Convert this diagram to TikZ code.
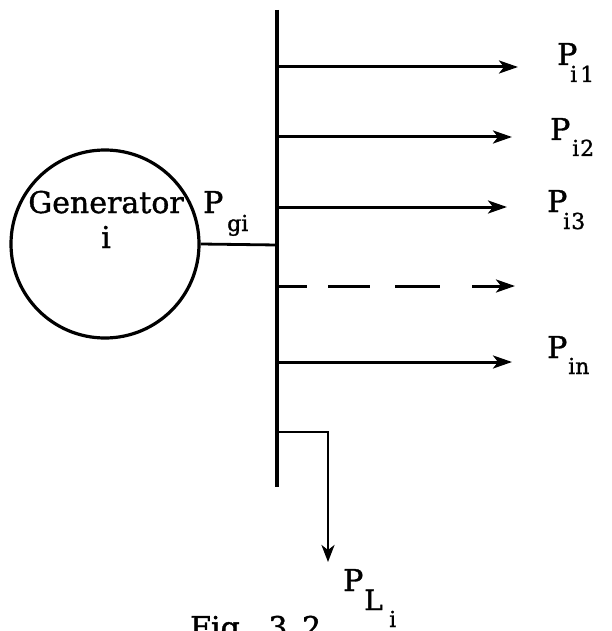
\documentclass[tikz,border=0pt]{standalone}
\usepackage{fontspec}
\setmainfont{DejaVu Serif}[FakeBold=1.2]
\usetikzlibrary{arrows.meta}
\begin{document}
\begin{tikzpicture}[x=1pt,y=-1pt,
  bus/.style={line width=3.6pt},
  feeder/.style={line width=3pt,-{Stealth[length=19pt,width=13pt,inset=5pt]}},
  loadline/.style={line width=2.6pt,-{Stealth[length=17pt,width=13pt,inset=5pt]}},
  big/.style={inner sep=0pt,anchor=base west,font=\fontsize{30}{34}\selectfont},
  small/.style={inner sep=0pt,anchor=base west,font=\fontsize{22}{26}\selectfont},
  mid/.style={inner sep=0pt,anchor=base west,font=\fontsize{28}{32}\selectfont}]
\useasboundingbox (0,0) rectangle (612,631);
% bus
\coordinate (bt) at (277,10);
\coordinate (bb) at (277,487);
\draw[bus] (bt) -- (bb);
% generator
\node[draw,circle,line width=3.2pt,minimum size=188pt,inner sep=0pt] (gen) at (105,244) {};
\node[big,anchor=base] (gtxt) at (106,213) {Generator};
\node[big,anchor=base] (gi) at (106,248) {i};
\coordinate (bg) at (277,245);
\draw[line width=2.8pt] (gen.east) -- (bg);
\node[big] (pg) at (203,213) {P};
\node[small] (pgs) at (227,231) {gi};
% feeders
\coordinate (b1) at (277,67);  \coordinate (t1) at (518,67);
\coordinate (b2) at (277,137); \coordinate (t2) at (512,137);
\coordinate (b3) at (277,207); \coordinate (t3) at (507,207);
\coordinate (b4) at (277,286); \coordinate (t4) at (515,286);
\coordinate (b5) at (277,362); \coordinate (t5) at (512,362);
\draw[feeder] (b1) -- (t1);
\draw[feeder] (b2) -- (t2);
\draw[feeder] (b3) -- (t3);
\draw[feeder,dash pattern=on 30pt off 21pt on 42pt off 25pt on 45pt off 32pt on 80pt] (b4) -- (t4);
\draw[feeder] (b5) -- (t5);
% labels
\node[big] (p1) at (557,65) {P};  \node[small] (p1s) at (570,82) {i\kern3pt 1};
\node[big] (p2) at (550,140) {P}; \node[small] (p2s) at (572,156) {i\kern1pt 2};
\node[big] (p3) at (547,212) {P}; \node[small] (p3s) at (563,229) {i\kern1pt 3};
\node[big] (pn) at (547,358) {P}; \node[small] (pns) at (568,374) {in};
% load
\coordinate (bl) at (277,432);
\coordinate (tl) at (328,562);
\draw[loadline] (bl) -| (tl);
\node[big] (pl) at (343,591) {P};
\node[mid] (pll) at (364,610) {L};
\node[small] (pli) at (389,627) {i};
% caption
\node[big] (cap) at (190,638) {Fig.\ \ 3.\,2};
\end{tikzpicture}
\end{document}
